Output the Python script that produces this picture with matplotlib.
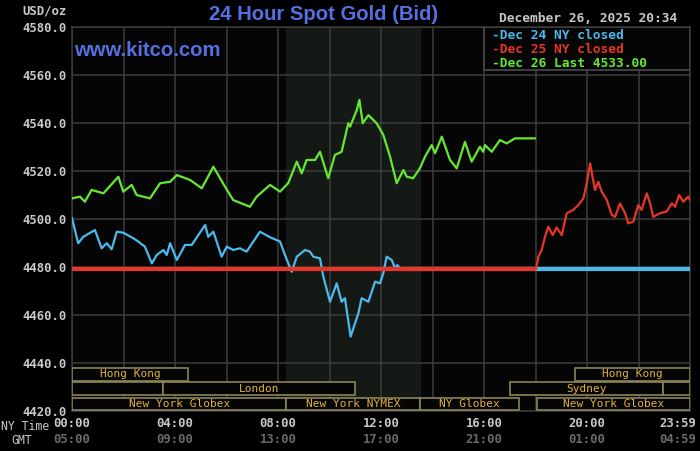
import matplotlib.pyplot as plt
from matplotlib.patches import Rectangle
from matplotlib.transforms import offset_copy

# hours after 00:00 NY time
hours_dec26 = [0.0, 0.31, 0.50, 0.76, 1.22, 1.80, 1.99, 2.32, 2.51, 3.03, 3.42, 3.81,
               4.07, 4.58, 5.04, 5.49, 5.94, 6.26, 6.91, 7.17, 7.69, 8.08, 8.40, 8.73,
               8.92, 9.11, 9.44, 9.63, 9.95, 10.21, 10.47, 10.73, 10.80, 11.06, 11.16,
               11.29, 11.51, 11.83, 12.09, 12.35, 12.61, 12.87, 13.00, 13.25, 13.51,
               13.71, 13.97, 14.10, 14.36, 14.68, 14.94, 15.26, 15.52, 15.84, 15.97,
               16.04, 16.30, 16.62, 16.88, 17.20, 17.98]
price_dec26 = [4508.6, 4509.3, 4507.2, 4512.1, 4510.7, 4517.6, 4511.4, 4514.2, 4510.0,
               4508.6, 4514.9, 4515.5, 4518.3, 4516.3, 4512.8, 4521.8, 4513.5, 4507.9,
               4505.1, 4509.3, 4514.2, 4511.4, 4515.0, 4523.9, 4519.0, 4524.6, 4524.6,
               4528.0, 4517.0, 4526.7, 4528.0, 4539.9, 4538.5, 4545.4, 4549.6, 4539.9,
               4543.3, 4539.9, 4535.0, 4526.0, 4514.9, 4520.4, 4517.6, 4517.0, 4521.1,
               4526.0, 4530.8, 4527.4, 4534.3, 4524.6, 4521.1, 4532.1, 4523.9, 4530.1,
               4528.0, 4530.8, 4528.0, 4532.9, 4531.5, 4533.6, 4533.6]

hours_dec24 = [0.0, 0.24, 0.44, 0.89, 1.15, 1.35, 1.54, 1.74, 1.99, 2.38, 2.57, 2.83,
               3.10, 3.29, 3.55, 3.68, 3.81, 4.07, 4.39, 4.65, 5.17, 5.29, 5.49, 5.81,
               6.01, 6.26, 6.52, 6.78, 7.30, 7.69, 8.08, 8.27, 8.53, 8.73, 9.05, 9.24,
               9.37, 9.63, 9.76, 10.02, 10.28, 10.47, 10.60, 10.82, 11.12, 11.25, 11.51,
               11.77, 11.96, 12.09, 12.22, 12.42, 12.54, 12.63, 12.74, 12.90, 24.0]
price_dec24 = [4500.3, 4489.9, 4492.6, 4495.4, 4487.8, 4489.9, 4487.4, 4494.7, 4494.3,
               4492.0, 4490.6, 4488.5, 4481.5, 4485.0, 4487.1, 4485.0, 4489.9, 4482.9,
               4489.2, 4489.2, 4497.5, 4492.6, 4494.7, 4484.3, 4488.5, 4487.1, 4487.8,
               4486.4, 4494.7, 4492.4, 4490.6, 4485.0, 4478.0, 4484.3, 4487.1, 4486.4,
               4484.3, 4483.6, 4476.0, 4465.5, 4473.2, 4465.5, 4467.0, 4451.0, 4460.7,
               4467.0, 4465.5, 4473.9, 4473.2, 4477.4, 4484.3, 4482.9, 4479.5, 4480.8,
               4479.5, 4479.0, 4479.0]

hours_dec25 = [0.0, 18.02, 18.11, 18.24, 18.37, 18.50, 18.67, 18.82, 19.02, 19.21,
               19.47, 19.66, 19.86, 19.99, 20.12, 20.31, 20.44, 20.57, 20.77, 20.96,
               21.09, 21.28, 21.48, 21.60, 21.80, 21.99, 22.12, 22.32, 22.45, 22.57,
               22.83, 23.09, 23.29, 23.42, 23.58, 23.74, 23.93, 24.0]
price_dec25 = [4479.0, 4479.0, 4484.3, 4487.1, 4492.6, 4496.8, 4493.3, 4496.5, 4493.3,
               4502.4, 4503.8, 4505.8, 4508.6, 4514.9, 4523.2, 4512.1, 4515.5, 4511.4,
               4507.9, 4501.7, 4500.9, 4506.5, 4502.4, 4498.2, 4498.9, 4505.8, 4503.8,
               4510.7, 4506.5, 4500.9, 4502.4, 4503.1, 4506.5, 4505.1, 4510.0, 4507.2,
               4509.3, 4507.9]

ny_ticks = ['00:00', '04:00', '08:00', '12:00', '16:00', '20:00', '23:59']
gmt_ticks = ['05:00', '09:00', '13:00', '17:00', '21:00', '01:00', '04:59']
y_ticks = [4420, 4440, 4460, 4480, 4500, 4520, 4540, 4560, 4580]

session_names = ['Hong Kong', '', 'London', 'New York Globex', 'New York NYMEX',
                 'NY Globex', 'New York Globex', 'Sydney', '', 'Hong Kong']
session_start = [0.0, 0.0, 3.53, 0.0, 8.33, 13.53, 18.06, 17.0, 22.95, 19.53]
session_end   = [4.5, 3.53, 11.0, 8.33, 13.53, 17.36, 24.0, 22.95, 24.0, 24.0]
session_row   = [0, 1, 1, 2, 2, 2, 2, 1, 1, 0]
nymex_open, nymex_close = 8.33, 13.53

legend_labels = ['Dec 24 NY closed', 'Dec 25 NY closed', 'Dec 26 Last 4533.00']

c_blue, c_red, c_green = '#4cb9ec', '#e8352a', '#66e833'
mono = 'DejaVu Sans Mono'

fig = plt.figure(figsize=(7.0, 4.51), dpi=100, facecolor='#000000')
ax = fig.add_axes([72/700, 1-411/451, 618/700, 384/451], facecolor='#050505')

ax.axvspan(nymex_open, nymex_close, color='#151915', zorder=0)

ax.set_xlim(0, 24)
ax.set_ylim(4420, 4580)
ax.set_yticks(y_ticks)
ax.set_yticklabels(['%.1f' % v for v in y_ticks], family=mono, weight='bold',
                   fontsize=8.8, color='#c8c8c8')
ax.set_xticks(range(0, 25, 2))
ax.set_xticklabels(['' for _ in range(0, 25, 2)])
ax.tick_params(length=0, pad=4)
ax.grid(True, color='#3c3c3c', lw=1.1, zorder=1)
for s in ax.spines.values():
    s.set_color('#3c3c3c')
    s.set_linewidth(1.1)

# x labels: NY time and GMT
xtr = ax.get_xaxis_transform()
for i, (ny, g) in enumerate(zip(ny_ticks, gmt_ticks)):
    xh = i * 4
    tr, ha = xtr, 'center'
    if i == len(ny_ticks) - 1:
        tr, ha = offset_copy(xtr, fig=fig, x=6, units='dots'), 'right'
    ax.text(xh, -0.032, ny, transform=tr, ha=ha, va='center',
            family=mono, weight='bold', fontsize=8.8, color='#c8c8c8')
    ax.text(xh, -0.073, g, transform=tr, ha=ha, va='center',
            family=mono, weight='bold', fontsize=8.8, color='#6a6a6a')
fig.text(25/700, 1-426/451, 'NY Time', ha='center', va='center', family=mono,
         fontsize=8.3, color='#c8c8c8')
fig.text(22/700, 1-440/451, 'GMT', ha='center', va='center', family=mono,
         fontsize=8.3, color='#c8c8c8')
fig.text(45/700, 1-11/451, 'USD/oz', ha='center', va='center', family=mono,
         weight='bold', fontsize=8.8, color='#c8c8c8')

# market sessions
row_bottom = [4432.6, 4426.6, 4420.3]
for name, x0, x1, r in zip(session_names, session_start, session_end, session_row):
    ax.add_patch(Rectangle((x0, row_bottom[r]), x1 - x0, 5.3, facecolor='#050505',
                           edgecolor='#8b8557', lw=1.2, zorder=3))
    if name:
        ax.text((x0 + x1) / 2, row_bottom[r] + 2.65, name, ha='center', va='center',
                family=mono, fontsize=8, color='#e3b23a', zorder=4)

# price lines
ax.plot(hours_dec24, price_dec24, color=c_blue, lw=1.6, zorder=5)
ax.plot(hours_dec24[-2:], price_dec24[-2:], color=c_blue, lw=3, zorder=5,
        solid_capstyle='butt')
ax.plot(hours_dec25, price_dec25, color=c_red, lw=1.6, zorder=6)
ax.plot(hours_dec25[:2], price_dec25[:2], color=c_red, lw=3, zorder=6,
        solid_capstyle='butt')
ax.plot(hours_dec26, price_dec26, color=c_green, lw=1.6, zorder=7)

# legend box
ax.add_patch(Rectangle((16.0, 4562.0), 8.0, 18.0, facecolor='#050505',
                       edgecolor='#4a4a4a', lw=1.2, zorder=8))
for j, (lab, c) in enumerate(zip(legend_labels, [c_blue, c_red, c_green])):
    ax.text(16.3, 4576.6 - j * 6.0, '-' + lab, ha='left', va='center', family=mono,
            weight='bold', fontsize=9.3, color=c, zorder=9)

# titles
fig.text(324/700, 1-14/451, '24 Hour Spot Gold (Bid)', ha='center', va='center',
         family='Liberation Sans', weight='bold', fontsize=14.6, color='#5470e2')
fig.text(74/700, 1-50/451, 'www.kitco.com', ha='left', va='center',
         family='Liberation Sans', weight='bold', fontsize=14.6, color='#5470e2')
fig.text(588/700, 1-18/451, 'December 26, 2025 20:34', ha='center', va='center',
         family=mono, weight='bold', fontsize=9.3, color='#c8c8c8')

fig.savefig('out.png', dpi=100, facecolor='#000000')
